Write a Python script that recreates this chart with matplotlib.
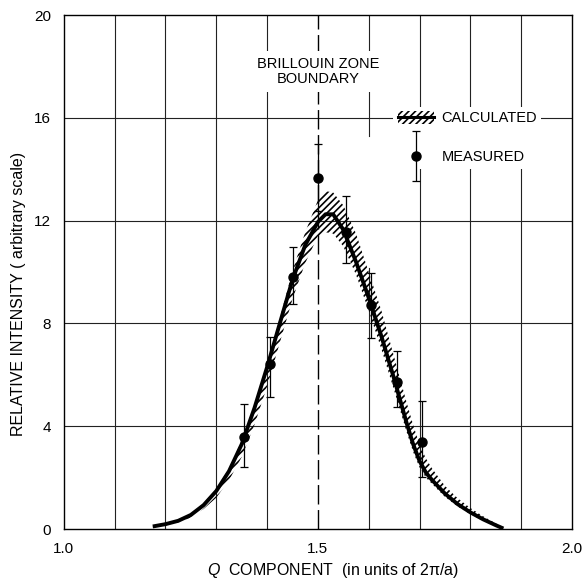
import matplotlib
matplotlib.use("Agg")
import matplotlib.pyplot as plt
from matplotlib.patches import Patch
from matplotlib.lines import Line2D
from matplotlib.container import ErrorbarContainer
from matplotlib.legend_handler import HandlerErrorbar

plt.rcParams['font.family'] = ['Liberation Sans', 'DejaVu Sans']
plt.rcParams['mathtext.fontset'] = 'custom'
plt.rcParams['mathtext.it'] = 'Liberation Sans:italic'
plt.rcParams['mathtext.rm'] = 'Liberation Sans'
plt.rcParams['hatch.linewidth'] = 1.2

# Calculated curve (centre) and hatched band limits
calc_x = [1.175, 1.20, 1.225, 1.25, 1.275, 1.30, 1.325, 1.35, 1.375, 1.40,
          1.425, 1.45, 1.475, 1.50, 1.515, 1.53, 1.55, 1.575, 1.60, 1.625,
          1.65, 1.675, 1.6875, 1.70, 1.7125, 1.725, 1.75, 1.775, 1.80, 1.825,
          1.85, 1.865]
calc_y = [0.10, 0.19, 0.32, 0.55, 0.93, 1.48, 2.25, 3.30, 4.70, 6.30,
          8.00, 9.70, 11.05, 11.95, 12.25, 12.25, 11.65, 10.40, 9.00, 7.50,
          5.85, 4.10, 3.30, 2.65, 2.20, 1.90, 1.38, 0.97, 0.65, 0.38,
          0.15, 0.02]
band_lo = [0.06, 0.14, 0.26, 0.45, 0.78, 1.22, 1.90, 2.80, 4.05, 5.55,
           7.25, 8.95, 10.35, 11.40, 11.55, 11.50, 11.00, 9.90, 8.50, 7.00,
           5.40, 3.75, 3.00, 2.40, 2.00, 1.75, 1.25, 0.88, 0.58, 0.32,
           0.11, 0.00]
band_hi = [0.11, 0.21, 0.34, 0.60, 1.00, 1.58, 2.35, 3.45, 4.85, 6.45,
           8.20, 10.05, 11.55, 12.80, 13.15, 13.10, 12.60, 11.50, 10.00, 8.50,
           6.70, 4.90, 4.05, 3.30, 2.75, 2.35, 1.68, 1.20, 0.82, 0.50,
           0.22, 0.06]

# Measured points with asymmetric error bars
meas_x = [1.355, 1.405, 1.45, 1.50, 1.555, 1.605, 1.655, 1.705]
meas_y = [3.59, 6.42, 9.80, 13.66, 11.57, 8.72, 5.73, 3.40]
err_lo = [1.19, 1.29, 1.05, 1.30, 1.21, 1.29, 0.97, 1.39]
err_hi = [1.26, 1.05, 1.17, 1.32, 1.39, 1.23, 1.21, 1.59]

x_ticks = [1.0, 1.5, 2.0]
x_tick_labels = ['1.0', '1.5', '2.0']
y_ticks = [0, 4, 8, 12, 16, 20]
x_grid = [1.1, 1.2, 1.3, 1.4, 1.7, 1.8, 1.9]
y_grid = [4, 8, 12, 16]
zone_boundary = 1.5

fig = plt.figure(figsize=(5.86, 5.82), dpi=100)
ax = fig.add_axes([0.109, 0.091, 0.867, 0.883])
ax.set_xlim(1.0, 2.0)
ax.set_ylim(0, 20)

gridc = '#222222'
for gx in x_grid:
    ax.axvline(gx, color=gridc, lw=0.8, zorder=1)
# the 1.6 grid line is broken in the original print
ax.axvline(1.6, ymin=0, ymax=10.15 / 20, color=gridc, lw=0.8, zorder=1)
ax.axvline(1.6, ymin=15.3 / 20, ymax=1, color=gridc, lw=0.8, zorder=1)
for gy in y_grid:
    ax.axhline(gy, color=gridc, lw=0.8, zorder=1)
ax.axvline(zone_boundary, color='black', lw=1.0, dashes=(14, 4), zorder=1)

band = ax.fill_between(calc_x, band_lo, band_hi, facecolor='none',
                       edgecolor='black', hatch='/////', linewidth=0, zorder=2)
line, = ax.plot(calc_x, calc_y, color='black', lw=2.8, solid_capstyle='butt',
                solid_joinstyle='round', zorder=3)
eb = ax.errorbar(meas_x, meas_y, yerr=[err_lo, err_hi], fmt='o', color='black',
                 ms=6.5, elinewidth=0.9, capsize=3, capthick=0.9, zorder=4)

ax.text(zone_boundary, 17.8, 'BRILLOUIN ZONE\nBOUNDARY', ha='center',
        va='center', fontsize=10.5, linespacing=1.15, zorder=5,
        bbox=dict(facecolor='white', edgecolor='none', pad=4))

calc_handle = Patch(facecolor='none', edgecolor='black', hatch='/////',
                    linewidth=0)
line_handle = Line2D([], [], color='black', lw=2.2)
leg = ax.legend([(calc_handle, line_handle), eb], ['CALCULATED', 'MEASURED'],
                loc='upper left', bbox_to_anchor=(0.634, 0.836),
                frameon=True, fancybox=False, framealpha=1,
                edgecolor='none', facecolor='white', fontsize=10.5,
                handlelength=2.5, handleheight=0.95, handletextpad=0.5,
                labelspacing=1.7, borderpad=0.3,
                handler_map={ErrorbarContainer: HandlerErrorbar(yerr_size=1.7)})
leg.set_zorder(6)

ax.set_xticks(x_ticks)
ax.set_xticklabels(x_tick_labels)
ax.set_yticks(y_ticks)
ax.tick_params(length=0, labelsize=11, pad=9)
for s in ax.spines.values():
    s.set_linewidth(1.0)

ax.set_xlabel(r'$\mathit{Q}$  COMPONENT  (in units of 2π/a)', fontsize=11.5)
ax.xaxis.set_label_coords(0.53, -0.063)
ax.set_ylabel('RELATIVE INTENSITY ( arbitrary scale)', fontsize=11.5)
ax.yaxis.set_label_coords(-0.075, 0.458)

fig.savefig('out.png', dpi=100)
